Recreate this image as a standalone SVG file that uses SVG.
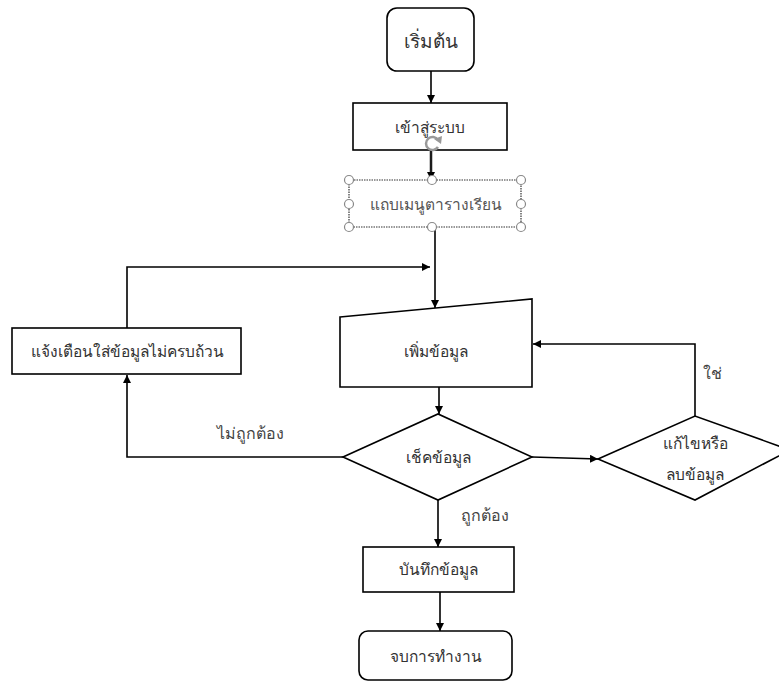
<svg xmlns="http://www.w3.org/2000/svg" width="779" height="682" viewBox="0 0 779 682">
<defs>
<marker id="ah" viewBox="0 0 10 10" refX="10" refY="5" markerWidth="8" markerHeight="8" markerUnits="userSpaceOnUse" orient="auto">
<path d="M0,0 L10,5 L0,10 z" fill="#000"/>
</marker>
</defs>
<style>
.shape{fill:#fff;stroke:#000;stroke-width:1.6}
.ln{fill:none;stroke:#000;stroke-width:1.6}
.t{font-family:"Noto Sans","Liberation Sans",sans-serif;font-size:15.5px;fill:#333;text-anchor:middle;dominant-baseline:central}
.lbl{font-family:"Noto Sans","Liberation Sans",sans-serif;font-size:16px;fill:#444;text-anchor:middle;dominant-baseline:central}
.h{fill:#fff;stroke:#888;stroke-width:1.2}
</style>
<rect width="779" height="682" fill="#fff"/>
<g id="connectors">
<line class="ln" x1="431" y1="71" x2="431" y2="103" marker-end="url(#ah)"/>
<line x1="431" y1="150" x2="431" y2="180" stroke="#888" stroke-width="3"/>
<line class="ln" x1="431" y1="150" x2="431" y2="180" stroke-width="1" marker-end="url(#ah)"/>
<line class="ln" x1="435" y1="227" x2="435" y2="308" marker-end="url(#ah)"/>
<polyline class="ln" points="127,328 127,267 430,267" marker-end="url(#ah)"/>
<line class="ln" x1="439" y1="387" x2="439" y2="414" marker-end="url(#ah)"/>
<polyline class="ln" points="343,457 127,457 127,375" marker-end="url(#ah)"/>
<line class="ln" x1="532" y1="457" x2="598" y2="459" marker-end="url(#ah)"/>
<polyline class="ln" points="695,416 695,344 533,344" marker-end="url(#ah)"/>
<line class="ln" x1="438" y1="500" x2="438" y2="547" marker-end="url(#ah)"/>
<line class="ln" x1="440" y1="592" x2="440" y2="631" marker-end="url(#ah)"/>
<text class="lbl" x="250" y="433">ไม่ถูกต้อง</text>
<text class="lbl" x="712" y="373">ใช่</text>
<text class="lbl" x="485" y="515">ถูกต้อง</text>
</g>
<g id="start">
<rect class="shape" x="387" y="8" width="87" height="63" rx="10"/>
<text class="t" x="431" y="41" style="font-size:19px">เริ่มต้น</text>
</g>
<g id="login">
<rect class="shape" x="353" y="103" width="154" height="47"/>
<text class="t" x="430" y="127">เข้าสู่ระบบ</text>
</g>
<g id="menu">
<rect x="349" y="180" width="172" height="47" fill="#fff" stroke="#333" stroke-width="1.2" stroke-dasharray="1.5 1"/>
<text class="t" x="436" y="204" style="fill:#555">แถบเมนูตารางเรียน</text>
<circle class="h" cx="349" cy="180" r="4.5"/>
<circle class="h" cx="432" cy="180" r="4.5"/>
<circle class="h" cx="521" cy="180" r="4.5"/>
<circle class="h" cx="349" cy="204" r="4.5"/>
<circle class="h" cx="521" cy="204" r="4.5"/>
<circle class="h" cx="349" cy="227" r="4.5"/>
<circle class="h" cx="432" cy="227" r="4.5"/>
<circle class="h" cx="521" cy="227" r="4.5"/>
<circle cx="432" cy="143" r="7" fill="#fff" fill-opacity="0.6" stroke="none"/>
<path d="M438,140 A6.5,6.5 0 1 0 438,147" fill="none" stroke="#999" stroke-width="2.5"/>
<path d="M434,139 L442,136 L441,144 z" fill="#999"/>
</g>
<g id="warn">
<rect class="shape" x="12" y="328" width="229" height="46"/>
<text class="t" x="127" y="351">แจ้งเตือนใส่ข้อมูลไม่ครบถ้วน</text>
</g>
<g id="input">
<polygon class="shape" points="340,317 532,299 532,387 340,387"/>
<text class="t" x="436" y="351">เพิ่มข้อมูล</text>
</g>
<g id="check">
<polygon class="shape" points="343,457 438,414 532,457 438,500"/>
<text class="t" x="438" y="457">เช็คข้อมูล</text>
</g>
<g id="edit">
<polygon class="shape" points="598,459 695,416 790,450 695,500"/>
<text class="t" x="695" y="443">แก้ไขหรือ</text>
<text class="t" x="695" y="474">ลบข้อมูล</text>
</g>
<g id="save">
<rect class="shape" x="363" y="547" width="151" height="45"/>
<text class="t" x="438" y="569">บันทึกข้อมูล</text>
</g>
<g id="end">
<rect class="shape" x="359" y="631" width="153" height="49" rx="9"/>
<text class="t" x="436" y="656">จบการทำงาน</text>
</g>
</svg>
